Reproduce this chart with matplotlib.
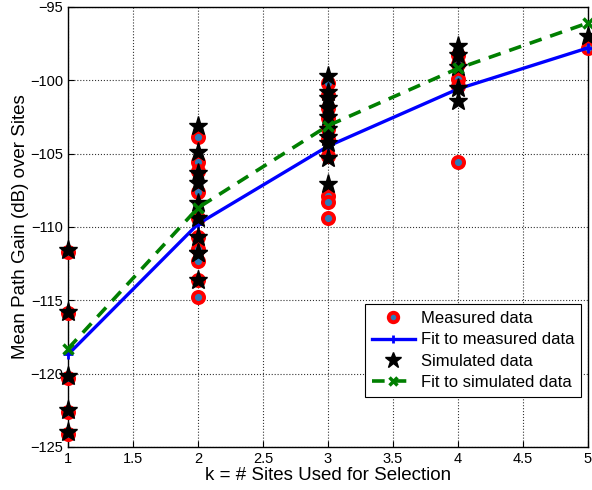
import matplotlib
matplotlib.use('Agg')
import matplotlib.pyplot as plt
import numpy as np

plt.rcParams['font.family'] = ['Liberation Sans', 'DejaVu Sans']

# Measured / simulated path gains per number of sites k
meas_k = [1]*5 + [2]*10 + [3]*10 + [4]*5 + [5]
meas_gain = [-111.7, -115.9, -120.3, -122.6, -124.1,
             -103.9, -105.6, -106.2, -107.6, -109.4, -110.7, -111.5, -112.3, -113.6, -114.8,
             -100.2, -101.0, -101.9, -102.6, -103.3, -104.0, -105.2, -107.9, -108.3, -109.4,
             -98.3, -98.9, -99.9, -100.4, -105.6,
             -97.8]

sim_k = [1]*5 + [2]*10 + [3]*10 + [4]*5 + [5]
sim_gain = [-111.6, -115.8, -120.2, -122.5, -124.0,
            -103.1, -104.9, -106.3, -107.0, -108.4, -109.4, -110.7, -111.8, -111.8, -113.6,
            -99.7, -100.8, -101.2, -101.9, -102.5, -103.3, -103.9, -104.3, -105.3, -107.1,
            -97.7, -98.3, -99.1, -100.5, -101.4,
            -97.0]

fit_k = [1, 2, 3, 4, 5]
fit_meas = [-118.7, -109.8, -104.5, -100.6, -97.8]
fit_sim = [-118.3, -108.7, -103.1, -99.2, -96.1]

fig = plt.figure(figsize=(5.92, 4.9), dpi=100)
ax = fig.add_axes([0.115, 0.088, 0.878, 0.898])

ax.plot(meas_k, meas_gain, 'o', ls='none', mfc='#2b7bba', mec='red', mew=2.8, ms=8,
        label='Measured data', zorder=3, clip_on=False)
ax.plot(fit_k, fit_meas, '-+', color='blue', lw=2.4, ms=7, mew=2,
        label='Fit to measured data', zorder=4, clip_on=False)
ax.plot(sim_k, sim_gain, '*', ls='none', color='black', ms=14,
        label='Simulated data', zorder=5, clip_on=False)
ax.plot(fit_k, fit_sim, '--x', color='#007f00', lw=2.6, ms=7, mew=2.5, dashes=(3.5, 2.5),
        label='Fit to simulated data', zorder=6, clip_on=False)

ax.set_xlim(1, 5)
ax.set_ylim(-125, -95)
ax.set_xticks(np.arange(1, 5.01, 0.5))
ax.set_xticklabels(['1', '1.5', '2', '2.5', '3', '3.5', '4', '4.5', '5'])
ax.set_yticks(np.arange(-125, -94, 5))
ax.grid(True, color='black', ls=':', lw=0.8, alpha=0.8)
ax.tick_params(labelsize=10.5, direction='in', length=4)
for s in ax.spines.values():
    s.set_linewidth(1.0)

ax.set_xlabel('k = # Sites Used for Selection', fontsize=13.5, labelpad=1)
ax.set_ylabel('Mean Path Gain (dB) over Sites', fontsize=13.5, labelpad=1)

leg = ax.legend(loc='lower right', bbox_to_anchor=(0.987, 0.114), fontsize=12,
                fancybox=False, edgecolor='black', framealpha=1,
                borderpad=0.4, labelspacing=0.38, handlelength=2.6, handletextpad=0.35,
                borderaxespad=0, markerscale=0.85)
leg.get_frame().set_linewidth(0.8)

fig.savefig('out.png', dpi=100)
